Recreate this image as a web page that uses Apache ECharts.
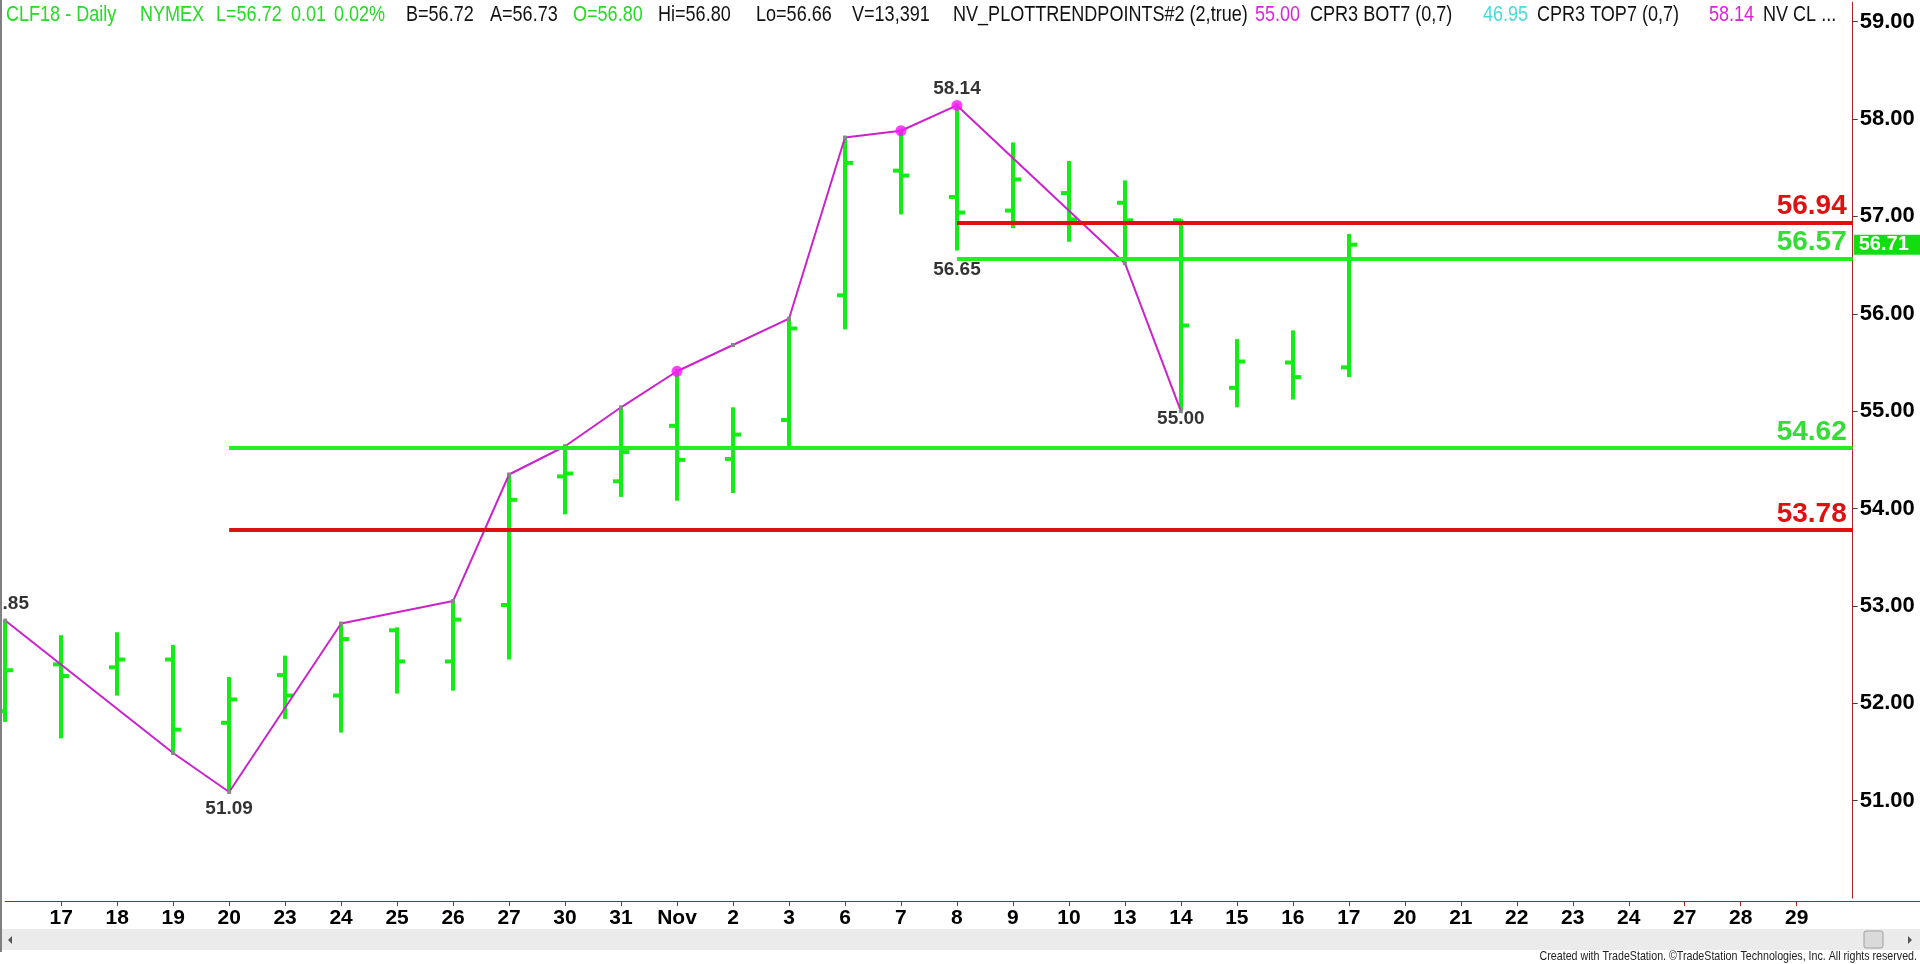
<!DOCTYPE html>
<html><head><meta charset="utf-8">
<script src="https://cdn.jsdelivr.net/npm/echarts@6/dist/echarts.min.js"></script>
<style>html,body{margin:0;padding:0;background:#fff;}#c{width:1920px;height:964px;}</style>
</head><body><div id="c"></div>
<script>
// ---- data ----
const categories = ['16','17','18','19','20','23','24','25','26','27','30','31','Nov','2','3','6','7','8','9','10','13','14','15','16','17','20','21','22','23','24','27','28','29','30'];
const opens  = [51.92,52.40,52.37,52.45,51.80,52.29,52.08,52.75,52.43,53.01,54.33,54.28,54.85,54.51,54.91,56.19,57.47,57.20,57.06,57.24,57.14,56.96,55.24,55.50,55.45];
const highs  = [52.85,52.70,52.73,52.60,52.27,52.49,52.82,52.78,53.05,54.35,54.64,55.04,55.41,55.04,55.95,57.81,57.88,58.14,57.76,57.57,57.37,56.97,55.74,55.83,56.82];
const lows   = [51.81,51.64,52.08,51.49,51.09,51.84,51.70,52.10,52.13,52.45,53.94,54.12,54.08,54.16,54.62,55.84,57.02,56.65,56.88,56.74,56.55,55.00,55.04,55.12,55.35];
const closes = [52.34,52.28,52.45,51.73,52.04,52.08,52.66,52.43,52.86,54.09,54.36,54.58,54.50,54.76,55.85,57.55,57.42,57.04,57.38,56.97,56.96,55.88,55.51,55.35,56.71];
const trendPoints = [52.85,null,null,51.49,51.09,null,52.82,null,53.05,54.35,54.64,55.04,55.41,55.68,55.95,57.81,57.88,58.14,null,null,56.52,55.00];
const pivotDotIdx = [12,16,17];
const labelsAbove = [[0,52.85],[17,58.14]];
const labelsBelow = [[4,51.09],[17,56.65],[21,55.00]];
const levelValues = [56.94,56.57,54.62,53.78];
const levelStartIdx = [17,17,4,4];
const levelKinds = ['res','sup','sup','res'];
const yTickValues = [51,52,53,54,55,56,57,58,59];
const lastPrice = 56.71;
const headerTokens = [
  ['CLF18 - Daily','g'],['NYMEX','g'],['L=56.72','g'],['0.01','g'],['0.02%','g'],
  ['B=56.72','k'],['A=56.73','k'],['O=56.80','g'],['Hi=56.80','k'],['Lo=56.66','k'],['V=13,391','k'],
  ['NV_PLOTTRENDPOINTS#2 (2,true)','k'],['55.00','m'],['CPR3 BOT7 (0,7)','k'],['46.95','c'],
  ['CPR3 TOP7 (0,7)','k'],['58.14','m'],['NV CL ...','k']
];
const footerText = 'Created with TradeStation. \u00A9TradeStation Technologies, Inc. All rights reserved.';

// ---- layout / style ----
const headerX = [6,140,216,291,334,406,490,573,658,756,852,953,1255,1310,1483,1537,1709,1763];
const belowLabelDist = [7, 9, -2.5];
const GREEN = '#11ee11';
const RED = '#dd1111';
const AXIS = '#aa2222';
const SANS = "'Liberation Sans',Arial,sans-serif";
const tokenColor = {g:'#22dd22',k:'#111',m:'#dd22dd',c:'#44dddd'};

const ohlc = opens.map((o,i)=>[i,o,highs[i],lows[i],closes[i]]);
const levelColor = k => k==='res' ? RED : '#22ee22';
const levelLabelColor = k => k==='res' ? RED : '#33dd33';

const chart = echarts.init(document.getElementById('c'));
const lastIdx = categories.length-1;

const graphics = [
  {type:'rect', shape:{x:0,y:0,width:2,height:952}, style:{fill:'#808080'}, z:100},
  {type:'line', shape:{x1:1845,y1:901.5,x2:1920,y2:901.5}, style:{stroke:AXIS,lineWidth:1}},
  {type:'rect', shape:{x:2,y:929,width:1918,height:21}, style:{fill:'#ebebeb'}},
  {type:'polygon', shape:{points:[[8,940],[12,936],[12,944]]}, style:{fill:'#555'}},
  {type:'polygon', shape:{points:[[1912,940],[1908,936],[1908,944]]}, style:{fill:'#555'}},
  {type:'rect', shape:{x:1864,y:931,width:19,height:17,r:2}, style:{fill:'#dadada',stroke:'#a0a0a0',lineWidth:1}},
  {type:'text', x:1917, y:950, scaleX:0.82, style:{text:footerText, font:'13px '+SANS, fill:'#222', textAlign:'right', textVerticalAlign:'top'}}
];
headerTokens.forEach((t,i)=>{
  graphics.push({type:'text', x:headerX[i], y:4, scaleX:0.82, style:{text:t[0], font:'22px '+SANS, fill:tokenColor[t[1]], textVerticalAlign:'top'}});
});

const labelStyle = {show:true, color:'#000', fontFamily:SANS, fontWeight:'bold', fontSize:19};

chart.setOption({
  animation:false,
  backgroundColor:'#fff',
  graphic: graphics,
  grid:{left:5.2, right:67.3, top:2.2, bottom:65.9, outerBoundsMode:'none'},
  xAxis:{
    type:'category', data:categories, boundaryGap:false, offset:3,
    axisLine:{lineStyle:{color:AXIS,width:1}},
    axisTick:{length:5, interval:(i)=>i>0&&i<lastIdx, lineStyle:{color:AXIS}},
    axisLabel:{interval:(i)=>i>0&&i<lastIdx, color:'#000', fontFamily:SANS, fontWeight:'bold', fontSize:21, margin:7},
    splitLine:{show:false}
  },
  yAxis:{
    type:'value', position:'right', min:50, max:59.2, scale:true,
    axisLine:{show:true, lineStyle:{color:AXIS,width:1}},
    axisTick:{show:true, length:5, customValues:yTickValues, lineStyle:{color:'#444'}},
    axisLabel:{customValues:yTickValues, formatter:v=>v.toFixed(2), color:'#000', fontFamily:SANS, fontWeight:'bold', fontSize:22, margin:7},
    splitLine:{show:false}
  },
  series:[
    {
      type:'custom', name:'OHLC', data:ohlc, z:2,
      renderItem:(params, api)=>{
        const i = api.value(0);
        const o = api.coord([i, api.value(1)]);
        const h = api.coord([i, api.value(2)]);
        const l = api.coord([i, api.value(3)]);
        const c = api.coord([i, api.value(4)]);
        const x = Math.round(h[0]);
        const st = {stroke:GREEN, lineWidth:4};
        return {type:'group', children:[
          {type:'line', shape:{x1:x,y1:h[1],x2:x,y2:l[1]}, style:st},
          {type:'line', shape:{x1:x-8,y1:o[1],x2:x,y2:o[1]}, style:st},
          {type:'line', shape:{x1:x,y1:c[1],x2:x+8,y2:c[1]}, style:st}
        ]};
      },
      markLine:{
        silent:true, symbol:'none', animation:false,
        data: levelValues.map((v,k)=>[
          {coord:[levelStartIdx[k], v], lineStyle:{color:levelColor(levelKinds[k]), width:4, type:'solid'},
           label:{show:true, position:'insideEndTop', distance:[6,2], formatter:v.toFixed(2), color:levelLabelColor(levelKinds[k]), fontFamily:SANS, fontWeight:'bold', fontSize:28}},
          {coord:[lastIdx, v]}
        ]).concat([[
          {coord:[ohlc.length-1, lastPrice], lineStyle:{color:'rgba(0,0,0,0)', width:0},
           label:{show:true, position:'end', distance:1, formatter:lastPrice.toFixed(2), color:'#fff', backgroundColor:'#11dd11', padding:[0,20,0,5], lineHeight:20, fontFamily:SANS, fontWeight:'bold', fontSize:20}},
          {coord:[lastIdx, lastPrice]}
        ]])
      }
    },
    {
      type:'line', name:'Trend', data:trendPoints, connectNulls:true, z:4,
      lineStyle:{color:'#cc22cc', width:2}, symbol:'rect', symbolSize:4, showSymbol:true,
      itemStyle:{color:'#888'}, silent:true
    },
    {
      type:'scatter', name:'Pivots', data:pivotDotIdx.map(i=>[i, highs[i]]), symbolSize:11, z:5,
      itemStyle:{color:'#ff11ff'}, silent:true
    },
    {
      type:'scatter', name:'HiLabels', data:labelsAbove, symbolSize:1, z:6, itemStyle:{color:'transparent'},
      label:Object.assign({position:'top', distance:7, formatter:p=>p.value[1].toFixed(2)}, labelStyle), silent:true
    },
    {
      type:'scatter', name:'LoLabels', z:6, symbolSize:1, itemStyle:{color:'transparent'},
      data:labelsBelow.map((d,k)=>({value:d, label:{distance:belowLabelDist[k]}})),
      label:Object.assign({position:'bottom', formatter:p=>p.value[1].toFixed(2)}, labelStyle), silent:true
    }
  ]
});
</script>
</body></html>
